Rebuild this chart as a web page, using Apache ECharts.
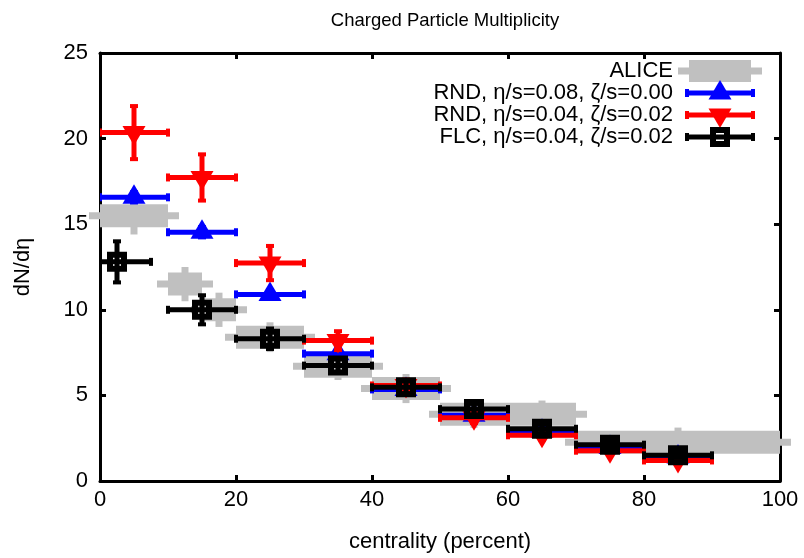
<!DOCTYPE html>
<html><head><meta charset="utf-8">
<script src="https://cdn.jsdelivr.net/npm/echarts@6/dist/echarts.min.js"></script>
<style>html,body{margin:0;padding:0;background:#fff}#c{width:804px;height:558px}</style>
</head><body><div id="c"></div>
<script>
const FONT = '"Liberation Sans", Arial, sans-serif';

// ALICE data (gray)
const aliceX     = [5, 12.5, 17.5, 25, 35, 45, 55, 65, 85];
const aliceXLow  = [0, 10, 15, 20, 30, 40, 50, 60, 70];
const aliceXHigh = [10, 15, 20, 30, 40, 50, 60, 70, 100];
const aliceY     = [15.5, 11.5, 10.0, 8.4, 6.7, 5.4, 3.9, 3.9, 2.27];
const aliceYErr  = [1.1, 1.0, 1.0, 0.87, 0.8, 0.85, 0.8, 0.8, 0.85];

// RND centers / bins
const rndX     = [5, 15, 25, 35, 45, 55, 65, 75, 85];
const rndXLow  = [0, 10, 20, 30, 40, 50, 60, 70, 80];
const rndXHigh = [10, 20, 30, 40, 50, 60, 70, 80, 90];

// RND, eta/s=0.08, zeta/s=0.00 (blue)
const rnd008Y   = [16.57, 14.53, 10.9, 7.44, 5.35, 3.84, 2.9, 1.95, 1.4];
const rnd008Err = [0.3, 0.3, 0.25, 0.2, 0.2, 0.15, 0.15, 0.1, 0.1];

// RND, eta/s=0.04, zeta/s=0.02 (red)
const rnd004Y   = [20.35, 17.73, 12.73, 8.2, 5.58, 3.69, 2.67, 1.77, 1.2];
const rnd004Err = [1.55, 1.35, 1.0, 0.55, 0.35, 0.3, 0.25, 0.2, 0.15];

// FLC, eta/s=0.04, zeta/s=0.02 (black)
const flcX     = [2.5, 15, 25, 35, 45, 55, 65, 75, 85];
const flcXLow  = [-2.5, 10, 20, 30, 40, 50, 60, 70, 80];
const flcXHigh = [7.5, 20, 30, 40, 50, 60, 70, 80, 90];
const flcY     = [12.8, 10.0, 8.31, 6.74, 5.47, 4.2, 3.05, 2.12, 1.5];
const flcErr   = [1.2, 0.85, 0.6, 0.4, 0.35, 0.3, 0.25, 0.2, 0.15];

const xTicks = [0, 20, 40, 60, 80, 100];
const yTicks = [0, 5, 10, 15, 20, 25];

const legendNames = ['ALICE', 'RND, \u03b7/s=0.08, \u03b6/s=0.00', 'RND, \u03b7/s=0.04, \u03b6/s=0.02', 'FLC, \u03b7/s=0.04, \u03b6/s=0.02'];

const GRAY = '#c0c0c0';

function build(xs, ys, xl, xh, err) {
  return xs.map((x, i) => [x, ys[i], xl[i], xh[i], ys[i] - err[i], ys[i] + err[i]]);
}

function aliceRender(params, api) {
  const y = api.value(1);
  const c = api.coord([api.value(0), y]);
  const l = api.coord([api.value(2), y]);
  const h = api.coord([api.value(3), y]);
  const lo = api.coord([api.value(0), api.value(4)]);
  const hi = api.coord([api.value(0), api.value(5)]);
  const st = { fill: GRAY };
  return { type: 'group', children: [
    { type: 'rect', shape: { x: l[0] - 11, y: c[1] - 3.5, width: h[0] - l[0] + 22, height: 7 }, style: st },
    { type: 'rect', shape: { x: l[0], y: c[1] - 11.5, width: h[0] - l[0], height: 23 }, style: st },
    { type: 'rect', shape: { x: c[0] - 3.5, y: hi[1], width: 7, height: lo[1] - hi[1] }, style: st }
  ]};
}

function modelRender(color, marker) {
  return function (params, api) {
    const y = api.value(1);
    const c = api.coord([api.value(0), y]);
    const l = api.coord([api.value(2), y]);
    const h = api.coord([api.value(3), y]);
    const lo = api.coord([api.value(0), api.value(4)]);
    const hi = api.coord([api.value(0), api.value(5)]);
    const st = { stroke: color, lineWidth: 5 };
    const f = { fill: color };
    const ch = [
      { type: 'line', shape: { x1: l[0], y1: c[1], x2: h[0], y2: c[1] }, style: st },
      { type: 'line', shape: { x1: c[0], y1: hi[1], x2: c[0], y2: lo[1] }, style: st },
      { type: 'rect', shape: { x: l[0] - 2, y: c[1] - 4, width: 4, height: 8 }, style: f },
      { type: 'rect', shape: { x: h[0] - 2, y: c[1] - 4, width: 4, height: 8 }, style: f },
      { type: 'rect', shape: { x: c[0] - 4, y: hi[1] - 2, width: 8, height: 4 }, style: f },
      { type: 'rect', shape: { x: c[0] - 4, y: lo[1] - 2, width: 8, height: 4 }, style: f }
    ];
    ch.push(markerShape(marker, c[0], c[1], color));
    return { type: 'group', children: ch };
  };
}

function markerShape(marker, cx, cy, color) {
  if (marker === 'up') return { type: 'polygon', shape: { points: [[cx - 11.5, cy + 6.5], [cx + 11.5, cy + 6.5], [cx, cy - 13]] }, style: { fill: color } };
  if (marker === 'down') return { type: 'polygon', shape: { points: [[cx - 11.5, cy - 6.5], [cx + 11.5, cy - 6.5], [cx, cy + 13]] }, style: { fill: color } };
  return { type: 'rect', shape: { x: cx - 7, y: cy - 7, width: 14, height: 14 }, style: { fill: 'none', stroke: color, lineWidth: 6 } };
}

const chart = echarts.init(document.getElementById('c'), null, { renderer: 'canvas' });

// legend drawn as graphic elements
const legY = [71, 93, 115, 137];
const legTextX = 673;
const legend = [];
legendNames.forEach((n, i) => {
  legend.push({ type: 'text', x: legTextX, y: legY[i], style: { text: n, font: '22px ' + FONT, fill: '#000', textAlign: 'right', textVerticalAlign: 'middle' } });
});
legend.push({ type: 'rect', shape: { x: 678, y: legY[0] - 3.5, width: 84, height: 7 }, style: { fill: GRAY } });
legend.push({ type: 'rect', shape: { x: 689, y: legY[0] - 11, width: 62, height: 22 }, style: { fill: GRAY } });
[['#0000ff', 'up'], ['#ff0000', 'down'], ['#000000', 'sq']].forEach((m, k) => {
  const yy = legY[k + 1];
  legend.push({ type: 'line', shape: { x1: 687, y1: yy, x2: 753, y2: yy }, style: { stroke: m[0], lineWidth: 5 } });
  legend.push({ type: 'rect', shape: { x: 685, y: yy - 4, width: 4, height: 8 }, style: { fill: m[0] } });
  legend.push({ type: 'rect', shape: { x: 751, y: yy - 4, width: 4, height: 8 }, style: { fill: m[0] } });
  legend.push(markerShape(m[1], 720, yy, m[0]));
});

const axisCommon = {
  axisLine: { show: true, onZero: false, lineStyle: { color: '#000', width: 3 } },
  axisTick: { show: true, inside: true, length: 6, lineStyle: { color: '#000', width: 3 } },
  splitLine: { show: false }
};

chart.setOption({
  animation: false,
  backgroundColor: '#fff',
  title: { text: 'Charged Particle Multiplicity', left: 440, top: 6, textAlign: 'center',
    textStyle: { fontFamily: FONT, fontSize: 18.5, fontWeight: 'normal', color: '#000' } },
  grid: { left: 100, right: 24, top: 53, bottom: 75, containLabel: false },
  xAxis: [
    Object.assign({ type: 'value', min: 0, max: 100, interval: 20, position: 'bottom',
      name: 'centrality (percent)', nameLocation: 'middle', nameGap: 50,
      nameTextStyle: { fontFamily: FONT, fontSize: 22, color: '#000' },
      axisLabel: { fontFamily: FONT, fontSize: 22, color: '#000', margin: 8 } }, axisCommon),
    Object.assign({ type: 'value', min: 0, max: 100, interval: 20, position: 'top',
      axisLabel: { show: false } }, axisCommon)
  ],
  yAxis: [
    Object.assign({ type: 'value', min: 0, max: 25, interval: 5, position: 'left',
      name: 'dN/d\u03b7', nameLocation: 'middle', nameGap: 66,
      nameTextStyle: { fontFamily: FONT, fontSize: 22, color: '#000' },
      axisLabel: { fontFamily: FONT, fontSize: 22, color: '#000', margin: 12 } }, axisCommon),
    Object.assign({ type: 'value', min: 0, max: 25, interval: 5, position: 'right',
      axisLabel: { show: false } }, axisCommon)
  ],
  graphic: legend,
  series: [
    { name: legendNames[0], type: 'custom', renderItem: aliceRender, clip: false,
      encode: { x: 0, y: 1 }, data: build(aliceX, aliceY, aliceXLow, aliceXHigh, aliceYErr), z: 1 },
    { name: legendNames[1], type: 'custom', renderItem: modelRender('#0000ff', 'up'), clip: true,
      encode: { x: 0, y: 1 }, data: build(rndX, rnd008Y, rndXLow, rndXHigh, rnd008Err), z: 2 },
    { name: legendNames[2], type: 'custom', renderItem: modelRender('#ff0000', 'down'), clip: true,
      encode: { x: 0, y: 1 }, data: build(rndX, rnd004Y, rndXLow, rndXHigh, rnd004Err), z: 3 },
    { name: legendNames[3], type: 'custom', renderItem: modelRender('#000000', 'sq'), clip: true,
      encode: { x: 0, y: 1 }, data: build(flcX, flcY, flcXLow, flcXHigh, flcErr), z: 4 }
  ]
});
</script></body></html>
